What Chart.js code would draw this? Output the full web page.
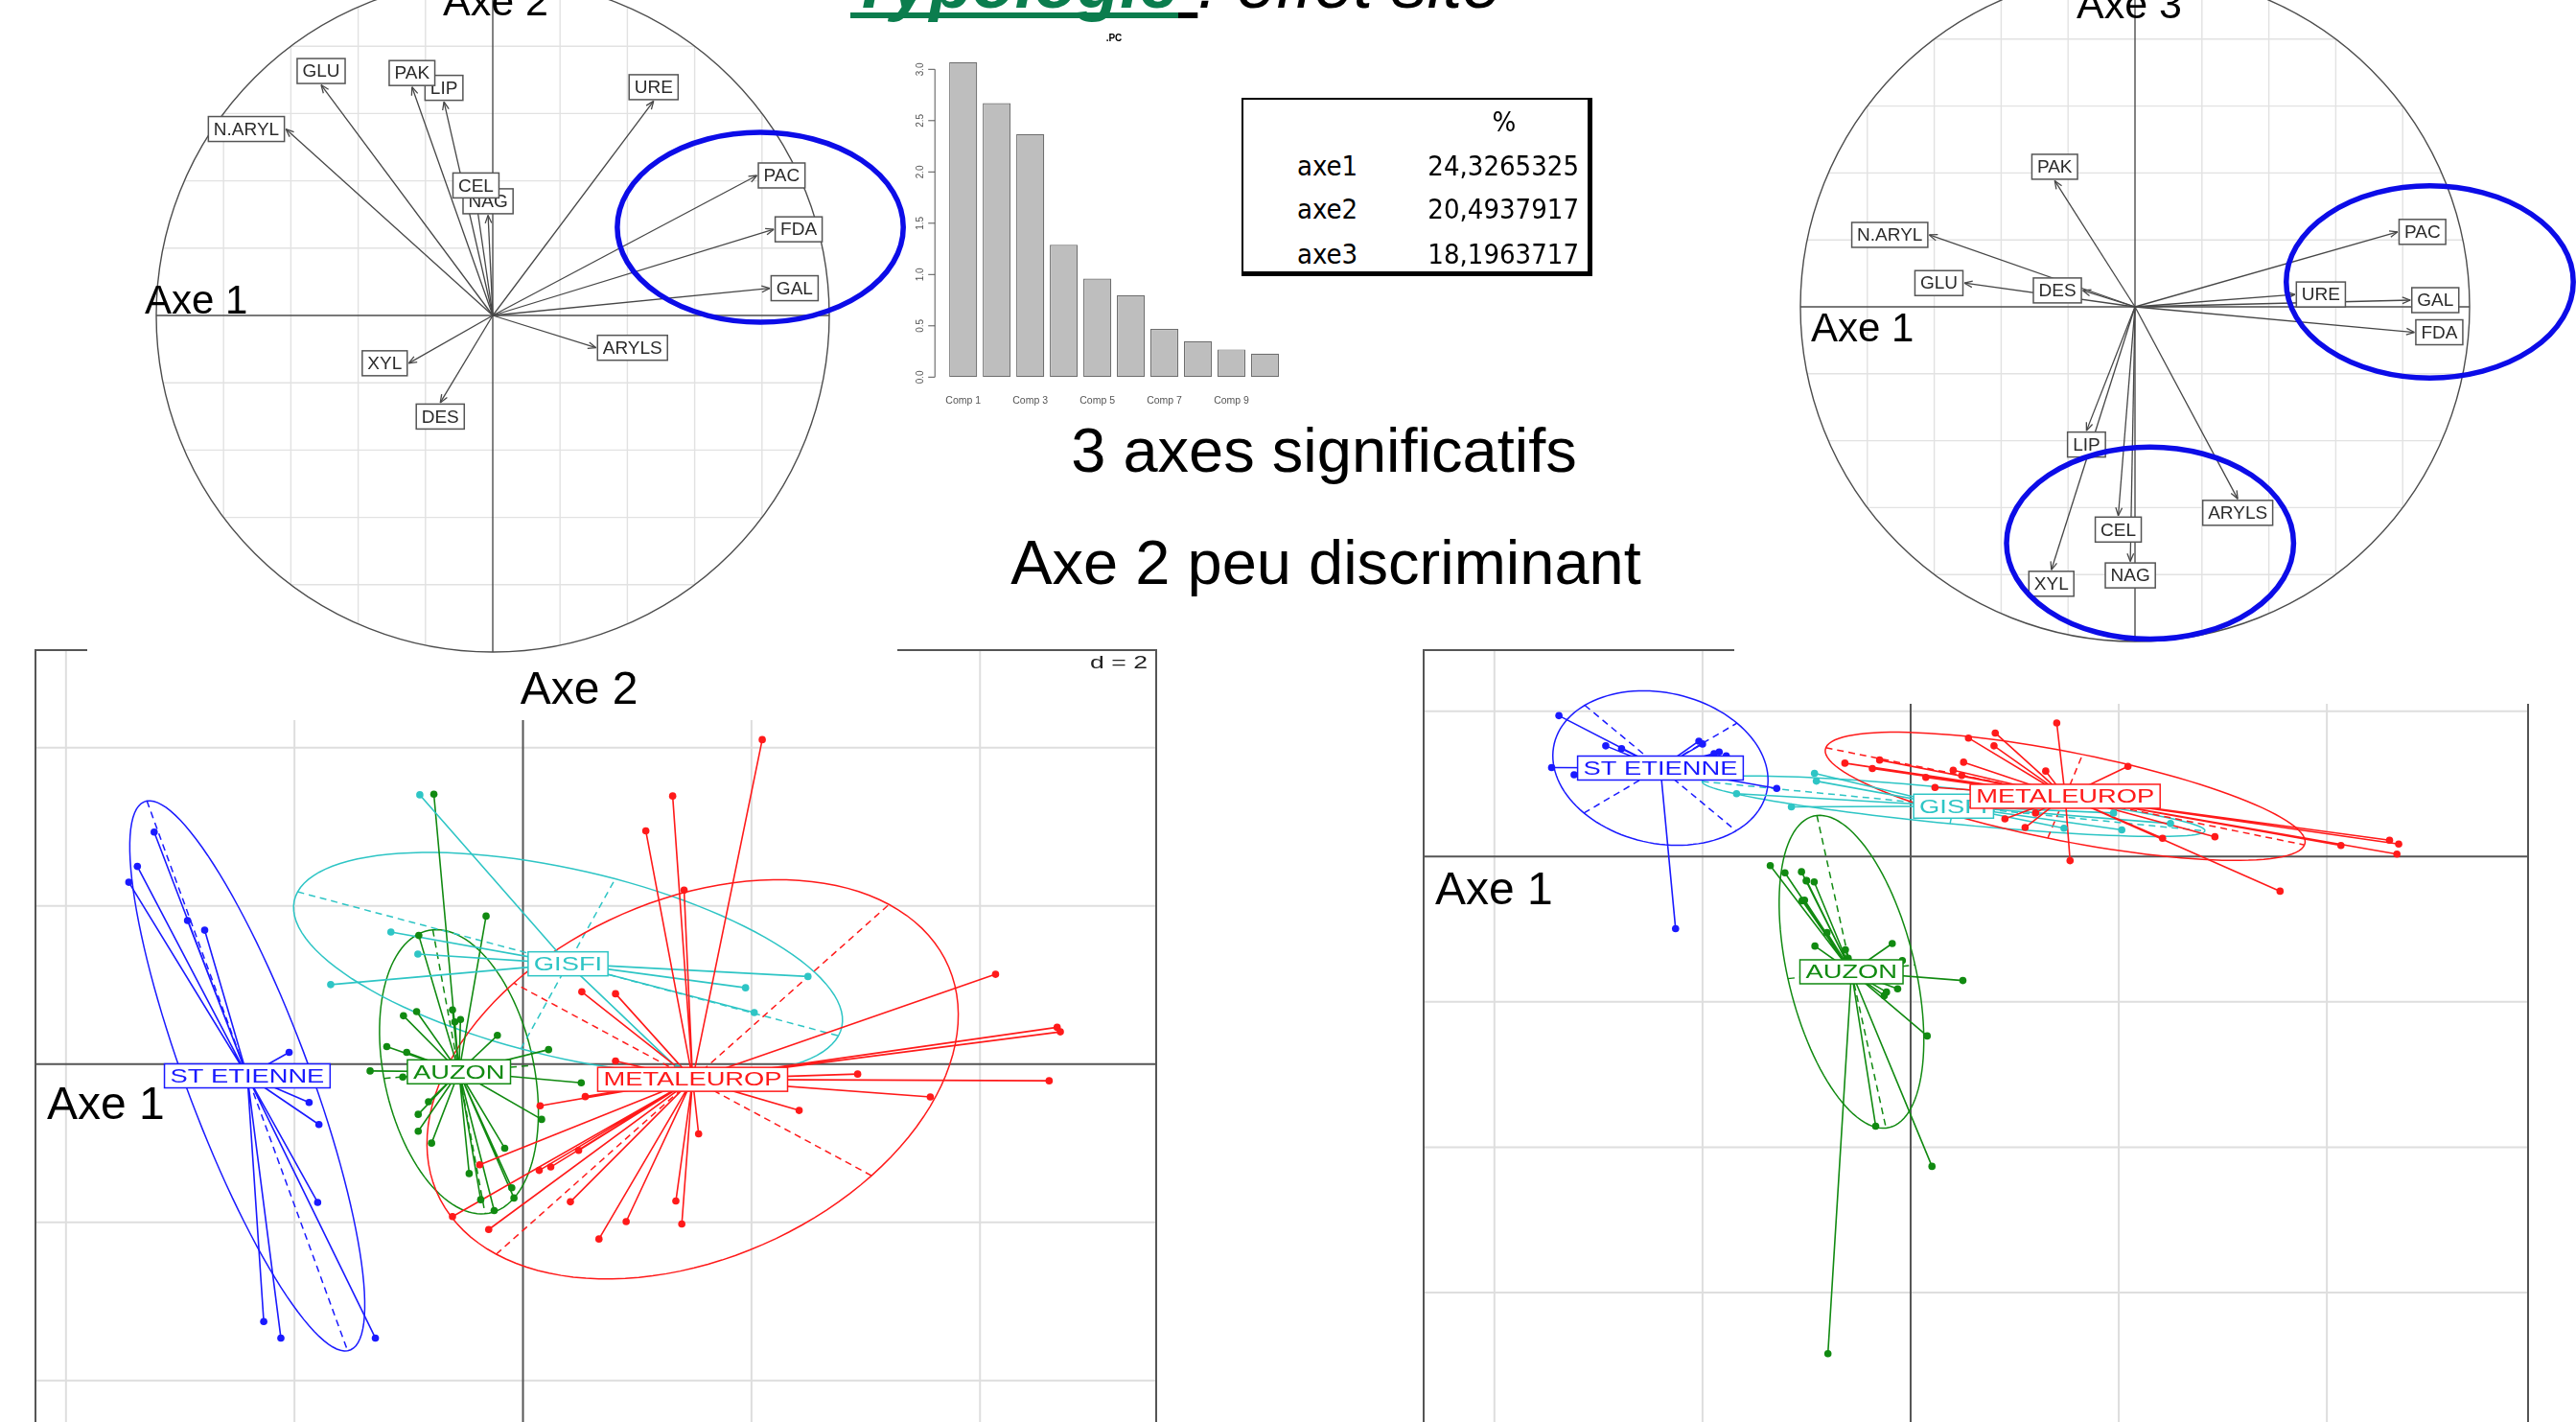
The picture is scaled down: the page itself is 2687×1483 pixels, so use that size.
<!DOCTYPE html>
<html lang="fr">
<head>
<meta charset="utf-8">
<title>Typologie : effet site</title>
<script src="https://cdn.jsdelivr.net/npm/chart.js@4.4.1/dist/chart.umd.min.js"></script>
<style>
  html, body { margin: 0; padding: 0; background: #fff; }
  body { position: relative; width: 2687px; height: 1483px; overflow: hidden; font-family: "Liberation Sans", Arial, sans-serif; }
  canvas { position: absolute; }
  .txt { position: absolute; white-space: nowrap; line-height: 1; }
  #tbl { position: absolute; left: 1295px; top: 102px; width: 366px; height: 186px; box-sizing: border-box;
         background: #fff; border-style: solid; border-color: #000; border-width: 2px 5px 5px 2px; }
</style>
</head>
<body>
<canvas id="indiv12" width="1171" height="830" style="left:36px;top:677px"></canvas>
<canvas id="indiv13" width="1154" height="830" style="left:1484px;top:677px"></canvas>
<canvas id="cor12" width="860" height="751" style="left:91px;top:0px"></canvas>
<canvas id="cor13" width="878" height="734" style="left:1809px;top:0px"></canvas>
<canvas id="scree" width="400" height="400" style="left:940px;top:30px"></canvas>
<div id="tbl"></div>
<script>
// variables (correlation circles), drawing order
const VARS = ['N.ARYL', 'GLU', 'LIP', 'PAK', 'NAG', 'CEL', 'URE', 'PAC', 'FDA', 'GAL', 'ARYLS', 'XYL', 'DES'];
const AXE1 = [-0.615, -0.51, -0.145, -0.24, -0.014, -0.05, 0.478, 0.785, 0.835, 0.823, 0.307, -0.25, -0.156];
const AXE2 = [0.554, 0.685, 0.635, 0.679, 0.298, 0.345, 0.637, 0.416, 0.256, 0.081, -0.096, -0.142, -0.259];
const AXE3 = [0.215, 0.071, -0.37, 0.377, -0.761, -0.624, 0.037, 0.224, -0.076, 0.02, -0.574, -0.786, 0.049];

// eigenvalues
const SCREE_LABELS = ['Comp 1', 'Comp 2', 'Comp 3', 'Comp 4', 'Comp 5', 'Comp 6', 'Comp 7', 'Comp 8', 'Comp 9', 'Comp 10'];
const SCREE_VALUES = [3.07, 2.67, 2.37, 1.29, 0.96, 0.80, 0.47, 0.35, 0.27, 0.23];
const SCREE_TICKS = [0, 0.5, 1, 1.5, 2, 2.5, 3];

const TABLE_ROWS = ['axe1', 'axe2', 'axe3'];
const TABLE_PCT = ['24,3265325', '20,4937917', '18,1963717'];

// individuals, [axe1, axe2]
const SITES = ['AUZON', 'GISFI', 'METALEUROP', 'ST ETIENNE'];
const AUZON_12 = [[-0.78,3.413],[-0.323,1.872],[-0.912,1.627],[-0.617,0.685],[-0.547,0.565],[-1.046,0.612],[-0.931,0.664],
  [-0.224,0.364],[-1.192,0.223],[-1.018,0.15],[0.224,0.184],[-1.338,-0.086],[-1.052,-0.163],[0.51,-0.236],[-0.827,-0.475],
  [-0.917,-0.634],[-0.917,-0.848],[-0.8,-0.998],[0.163,-0.698],[-0.16,-1.062],[-0.471,-1.383],[-0.37,-1.713],[-0.252,-1.85],
  [-0.098,-1.563],[-0.079,-1.692],[-0.597,0.535]];
const GISFI_12 = [[-0.903,3.405],[-1.156,1.67],[-0.92,1.392],[-1.683,1.006],[2.494,1.108],[1.948,0.966],[2.024,0.653],[1.35,-0.05]];
const METAL_12 = [[2.094,4.102],[1.31,3.39],[1.075,2.95],[1.41,2.2],[0.515,0.915],[0.81,0.89],[0.81,0.04],[4.136,1.136],
  [4.675,0.466],[4.703,0.409],[2.929,-0.125],[4.605,-0.21],[3.565,-0.415],[2.417,-0.585],[1.537,-0.881],[0.545,-0.41],
  [0.15,-0.527],[0.487,-1.09],[0.243,-1.3],[0.142,-1.343],[0.415,-1.74],[1.338,-1.73],[0.903,-1.99],[1.39,-2.02],
  [0.665,-2.21],[-0.379,-1.272],[-0.617,-1.927],[-0.3,-2.09]];
const STETI_12 = [[-3.228,2.935],[-3.375,2.5],[-3.45,2.3],[-2.936,1.817],[-2.786,1.694],[-2.047,0.15],[-1.872,-0.484],
  [-1.786,-0.763],[-1.797,-1.747],[-2.269,-3.253],[-2.119,-3.462],[-1.292,-3.462]];

// individuals, [axe1, axe3]
const AUZON_13 = [[-1.349,-0.125],[-1.208,-0.224],[-1.049,-0.209],[-1.003,-0.334],[-0.927,-0.349],[-1.043,-0.608],[-1.02,-0.6],
  [-0.804,-1.047],[-0.627,-1.282],[-0.92,-1.232],[-0.177,-1.197],[-0.08,-1.431],[0.502,-1.706],[-0.125,-1.82],[-0.232,-1.865],
  [-0.254,-1.915],[0.159,-2.469],[-0.336,-3.711],[0.205,-4.264],[-0.795,-6.843],[-1.0,-0.33],[-0.6,-1.4],[-0.4,-1.5],
  [-0.55,-1.55],[-0.5,-1.62],[-0.65,-1.6]];
const GISFI_13 = [[-0.924,1.147],[-0.906,1.039],[-1.673,0.866],[-1.146,0.684],[1.474,0.39],[2.029,0.368],[2.497,0.455],[1.95,0.6]];
const METAL_13 = [[1.404,1.84],[0.813,1.701],[0.556,1.632],[0.801,1.524],[-0.632,1.286],[-0.298,1.329],[-0.368,1.212],
  [0.509,1.299],[0.409,1.19],[0.491,1.117],[0.146,1.091],[0.234,0.952],[1.298,1.177],[2.088,1.242],[0.906,0.519],
  [2.421,0.251],[2.924,0.273],[4.135,0.152],[4.602,0.225],[4.69,0.173],[4.673,0.035],[1.532,-0.056],[3.55,-0.476],
  [0.6,0.95],[0.8,0.75],[1.0,0.85],[1.2,0.6],[1.1,0.4]];
const STETI_13 = [[-3.38,1.94],[-2.93,1.524],[-2.778,1.485],[-2.035,1.589],[-1.889,1.416],[-1.772,1.385],[-3.45,1.225],
  [-3.234,1.126],[-1.287,0.939],[-2.259,-0.993],[-1.84,1.44],[-2.0,1.55]];

// ---- styles / layout ----
const SITE_COLORS = ['#118a11', '#2ec5c5', '#ff1a1a', '#1a1aff'];
const CIRCLE_GRID = [-0.8, -0.6, -0.4, -0.2, 0.2, 0.4, 0.6, 0.8];
// blue highlight rings drawn on the circles: [cx, cy, rx, ry] in circle units
const RING_12 = [[0.795, 0.262, 0.425, 0.282]];
const RING_13 = [[0.881, 0.0745, 0.429, 0.287], [0.045, -0.706, 0.429, 0.287]];
const FONT = '"Liberation Sans", Arial, sans-serif';

Chart.defaults.font.family = FONT;
const base = {
  responsive: false, animation: false, devicePixelRatio: 1, events: [],
  plugins: { legend: { display: false }, tooltip: { enabled: false } }
};

function seg(ctx, x1, y1, x2, y2) { ctx.beginPath(); ctx.moveTo(x1, y1); ctx.lineTo(x2, y2); ctx.stroke(); }

// correlation circle; paper = width of the white image area inside the canvas
function corCircle(id, cx, cy, r, ys, rings, paper) {
  const cv = document.getElementById(id);
  const W = cv.width, H = cv.height;
  const sets = VARS.map((v, i) => ({
    data: [{ x: 0, y: 0 }, { x: AXE1[i], y: ys[i] }],
    showLine: true, borderColor: '#474747', borderWidth: 1.3, pointRadius: 0
  }));
  const plug = {
    id: 'cor',
    beforeDraw(chart) {
      chart.ctx.save(); chart.ctx.fillStyle = '#fff'; chart.ctx.fillRect(0, 0, paper, H); chart.ctx.restore();
    },
    beforeDatasetsDraw(chart) {
      const { ctx, scales: { x, y } } = chart;
      const X = v => x.getPixelForValue(v), Y = v => y.getPixelForValue(v);
      ctx.save();
      ctx.lineWidth = 1.4; ctx.strokeStyle = '#e2e2e2';
      for (const g of CIRCLE_GRID) {
        const h = Math.sqrt(1 - g * g);
        seg(ctx, X(-h), Y(g), X(h), Y(g));
        seg(ctx, X(g), Y(-h), X(g), Y(h));
      }
      ctx.strokeStyle = '#4d4d4d';
      seg(ctx, X(-1), Y(0), X(1), Y(0));
      seg(ctx, X(0), Y(-1), X(0), Y(1));
      ctx.beginPath(); ctx.arc(X(0), Y(0), X(1) - X(0), 0, 2 * Math.PI); ctx.stroke();
      ctx.restore();
    },
    afterDatasetsDraw(chart) {
      const { ctx, scales: { x, y } } = chart;
      const X = v => x.getPixelForValue(v), Y = v => y.getPixelForValue(v);
      ctx.save();
      ctx.strokeStyle = '#474747'; ctx.lineWidth = 1.3;
      VARS.forEach((v, i) => {
        const tx = X(AXE1[i]), ty = Y(ys[i]);
        const a = Math.atan2(ty - Y(0), tx - X(0));
        ctx.beginPath();
        for (const s of [-1, 1]) { ctx.moveTo(tx, ty); ctx.lineTo(tx - 9 * Math.cos(a + s * 0.38), ty - 9 * Math.sin(a + s * 0.38)); }
        ctx.stroke();
      });
      ctx.font = '19px ' + FONT; ctx.textAlign = 'center'; ctx.textBaseline = 'middle';
      VARS.forEach((v, i) => {
        const w = ctx.measureText(v).width + 11, h = 26;
        let lx = X(AXE1[i]), ly = Y(ys[i]);
        if (Math.abs(AXE1[i]) > Math.abs(ys[i])) lx += Math.sign(AXE1[i]) * (w / 2 + 1.5);
        else ly -= Math.sign(ys[i]) * (h / 2 + 1.5);
        ctx.fillStyle = '#fff'; ctx.fillRect(lx - w / 2, ly - h / 2, w, h);
        ctx.strokeStyle = '#555'; ctx.lineWidth = 1.5; ctx.strokeRect(lx - w / 2, ly - h / 2, w, h);
        ctx.fillStyle = '#2b2b2b'; ctx.fillText(v, lx, ly + 1);
      });
      ctx.strokeStyle = '#0c0ce8'; ctx.lineWidth = 5.5;
      for (const [ex, ey, rx, ry] of rings) {
        ctx.beginPath(); ctx.ellipse(X(ex), Y(ey), X(rx) - X(0), X(ry) - X(0), 0, 0, 2 * Math.PI); ctx.stroke();
      }
      ctx.restore();
    }
  };
  new Chart(cv, {
    type: 'scatter', data: { datasets: sets },
    options: { ...base, scales: {
      x: { type: 'linear', display: false, min: -cx / r, max: (W - cx) / r },
      y: { type: 'linear', display: false, min: -(H - cy) / r, max: cy / r } } },
    plugins: [plug]
  });
}

function classStats(pts) {
  const n = pts.length;
  const mx = pts.reduce((s, p) => s + p[0], 0) / n, my = pts.reduce((s, p) => s + p[1], 0) / n;
  let vxx = 0, vyy = 0, vxy = 0;
  for (const [px, py] of pts) { vxx += (px - mx) ** 2; vyy += (py - my) ** 2; vxy += (px - mx) * (py - my); }
  vxx /= n; vyy /= n; vxy /= n;
  const t = (vxx + vyy) / 2, d = Math.sqrt(((vxx - vyy) / 2) ** 2 + vxy * vxy);
  return { mx, my, a: 1.5 * Math.sqrt(t + d), b: 1.5 * Math.sqrt(Math.max(t - d, 0)), th: 0.5 * Math.atan2(2 * vxy, vxx - vyy) };
}

// s.class-like scatter of the individuals
function classPlot(id, x0, y0, sx, sy, lists, showD) {
  const cv = document.getElementById(id);
  const W = cv.width, H = cv.height;
  const groups = lists.map((pts, k) => ({ name: SITES[k], color: SITE_COLORS[k], pts, ...classStats(pts) }));
  const sets = [];
  groups.forEach((g, k) => {
    const star = [];
    g.pts.forEach(p => star.push({ x: g.mx, y: g.my }, { x: p[0], y: p[1] }));
    sets.push({ data: star, showLine: true, borderColor: g.color, borderWidth: 1.6, borderJoinStyle: 'round',
                pointRadius: 0, order: 20 - k });
    sets.push({ data: g.pts.map(p => ({ x: p[0], y: p[1] })), pointRadius: 3.8, pointBackgroundColor: g.color,
                pointBorderWidth: 0, order: 10 - k });
  });
  const plug = {
    id: 'cls',
    beforeDatasetsDraw(chart) {
      const { ctx, scales: { x, y } } = chart;
      const X = v => x.getPixelForValue(v), Y = v => y.getPixelForValue(v);
      ctx.save();
      ctx.lineWidth = 2; ctx.strokeStyle = '#dedede';
      for (let v = Math.ceil(x.min / 2) * 2; v <= x.max; v += 2) if (v) seg(ctx, X(v), 0, X(v), H);
      for (let v = Math.ceil(y.min / 2) * 2; v <= y.max; v += 2) if (v) seg(ctx, 0, Y(v), W, Y(v));
      ctx.strokeStyle = '#555';
      seg(ctx, X(0), 0, X(0), H); seg(ctx, 0, Y(0), W, Y(0));
      ctx.strokeRect(1, 1, W - 2, H + 10);
      for (const g of groups) {
        ctx.strokeStyle = g.color; ctx.lineWidth = 1.5;
        const c = Math.cos(g.th), s = Math.sin(g.th);
        ctx.beginPath();
        for (let i = 0; i <= 120; i++) {
          const t = i / 120 * 2 * Math.PI;
          const ex = g.mx + g.a * c * Math.cos(t) - g.b * s * Math.sin(t);
          const ey = g.my + g.a * s * Math.cos(t) + g.b * c * Math.sin(t);
          i ? ctx.lineTo(X(ex), Y(ey)) : ctx.moveTo(X(ex), Y(ey));
        }
        ctx.stroke();
        ctx.setLineDash([7, 5]);
        seg(ctx, X(g.mx - g.a * c), Y(g.my - g.a * s), X(g.mx + g.a * c), Y(g.my + g.a * s));
        seg(ctx, X(g.mx + g.b * s), Y(g.my - g.b * c), X(g.mx - g.b * s), Y(g.my + g.b * c));
        ctx.setLineDash([]);
      }
      ctx.restore();
    },
    afterDatasetsDraw(chart) {
      const { ctx, scales: { x, y } } = chart;
      ctx.save();
      ctx.font = '21px ' + FONT; ctx.textAlign = 'center'; ctx.textBaseline = 'middle';
      for (const g of groups) {
        const w = ctx.measureText(g.name).width * 1.3 + 12, h = 25;
        const px = x.getPixelForValue(g.mx), py = y.getPixelForValue(g.my);
        ctx.fillStyle = '#fff'; ctx.fillRect(px - w / 2, py - h / 2, w, h);
        ctx.strokeStyle = g.color; ctx.lineWidth = 1.5; ctx.strokeRect(px - w / 2, py - h / 2, w, h);
        ctx.save(); ctx.translate(px, py + 1); ctx.scale(1.3, 1);
        ctx.fillStyle = g.color; ctx.fillText(g.name, 0, 0); ctx.restore();
      }
      if (showD) {
        ctx.font = '19px ' + FONT; ctx.textAlign = 'right'; ctx.textBaseline = 'alphabetic';
        ctx.translate(W - 10, 20); ctx.scale(1.4, 1); ctx.fillStyle = '#222'; ctx.fillText('d = 2', 0, 0);
      }
      ctx.restore();
    }
  };
  new Chart(cv, {
    type: 'scatter', data: { datasets: sets },
    options: { ...base, scales: {
      x: { type: 'linear', display: false, min: -x0 / sx, max: (W - x0) / sx },
      y: { type: 'linear', display: false, min: -(H - y0) / sy, max: y0 / sy } } },
    plugins: [plug]
  });
}

classPlot('indiv12', 509, 433, 120, 83.3, [AUZON_12, GISFI_12, METAL_12, STETI_12], true);
classPlot('indiv13', 508.5, 214.4, 109.3, 76.5, [AUZON_13, GISFI_13, METAL_13, STETI_13], false);
corCircle('cor12', 423, 329, 351, AXE2, RING_12, 845);
corCircle('cor13', 418, 320, 349, AXE3, RING_13, 878);

// scree plot
new Chart(document.getElementById('scree'), {
  type: 'bar',
  data: { labels: SCREE_LABELS, datasets: [{ data: SCREE_VALUES, backgroundColor: '#bebebe', borderColor: '#6e6e6e',
    borderWidth: 1.2, borderSkipped: false, barPercentage: 0.833, categoryPercentage: 1 }] },
  options: { ...base, layout: { padding: { left: 47.2, right: 3, top: 20.9, bottom: 36.7 } },
    scales: { x: { display: false }, y: { display: false, min: 0, max: 3.2 } } },
  plugins: [{
    id: 'screeAxis',
    afterDatasetsDraw(chart) {
      const { ctx, chartArea: a, scales: { x, y } } = chart;
      const ax = a.left - 12;
      ctx.save();
      ctx.strokeStyle = '#555'; ctx.lineWidth = 1;
      seg(ctx, ax, y.getPixelForValue(SCREE_TICKS[0]), ax, y.getPixelForValue(SCREE_TICKS[SCREE_TICKS.length - 1]));
      SCREE_TICKS.forEach(v => seg(ctx, ax, y.getPixelForValue(v), ax - 7, y.getPixelForValue(v)));
      ctx.fillStyle = '#555'; ctx.font = '10px ' + FONT; ctx.textAlign = 'center';
      SCREE_TICKS.forEach(v => {
        ctx.save(); ctx.translate(ax - 12.6, y.getPixelForValue(v)); ctx.rotate(-Math.PI / 2);
        ctx.fillText(v.toFixed(1), 0, 0); ctx.restore();
      });
      ctx.font = '10.5px ' + FONT;
      SCREE_LABELS.forEach((l, i) => { if (i % 2 === 0) ctx.fillText(l, x.getPixelForValue(i), y.getPixelForValue(0) + 27.7); });
      ctx.restore();
    }
  }]
});

// slide texts
function put(content, x, baseline, size, align, css) {
  const d = document.createElement('div');
  d.className = 'txt';
  d.style.fontSize = size + 'px';
  d.style.top = (baseline - 0.846 * size) + 'px';
  if (align === 'center') { d.style.left = (x - 1000) + 'px'; d.style.width = '2000px'; d.style.textAlign = 'center'; }
  else if (align === 'right') { d.style.left = (x - 2000) + 'px'; d.style.width = '2000px'; d.style.textAlign = 'right'; }
  else d.style.left = x + 'px';
  if (css) d.style.cssText += css;
  if (typeof content === 'string') d.textContent = content; else content.forEach(c => d.appendChild(c));
  document.body.appendChild(d);
}
function span(text, css) { const s = document.createElement('span'); s.textContent = text; s.style.cssText = css; return s; }

const UL = 'text-decoration:underline;text-decoration-thickness:6px;text-underline-offset:5px;text-decoration-skip-ink:none;';
put([span('Typologie', 'color:#0b7d4e;font-weight:bold;' + UL), span(' ', UL + 'color:#000;'), span(': effet site', '')],
    887, 8, 73, 'left', 'font-style:italic;');

put('Axe 1', 151, 328, 42);
put('Axe 2', 517, 16, 43, 'center');
put('Axe 1', 1889, 357, 42);
put('Axe 3', 2221, 19, 43, 'center');
put('Axe 2', 604, 735, 48, 'center');
put('Axe 1', 49, 1168, 48);
put('Axe 1', 1497, 944, 48);
put('.PC', 1162, 43, 10, 'center', 'font-weight:bold;');
put('3 axes significatifs', 1381, 492, 65, 'center');
put('Axe 2 peu discriminant', 1383, 609, 65, 'center');

const TF = 'font-family:"DejaVu Sans Condensed","DejaVu Sans",sans-serif;font-stretch:condensed;';
put('%', 1569, 138, 29, 'center', TF);
TABLE_ROWS.forEach((r, i) => {
  put(r, 1353, [184, 229, 276][i], 29, 'left', TF);
  put(TABLE_PCT[i], 1647, [184, 229, 276][i], 29, 'right', TF);
});
</script>
</body>
</html>
